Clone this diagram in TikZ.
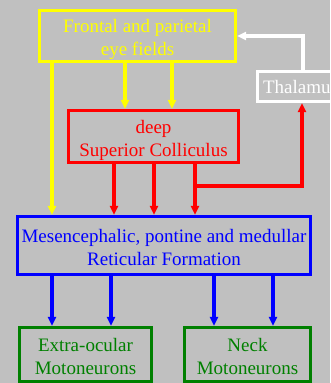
\documentclass[tikz,border=0pt]{standalone}
\usepackage{fontspec}
\setmainfont{Liberation Serif}
\definecolor{BgGray}{RGB}{192,192,192}
\definecolor{PathYellow}{RGB}{255,255,0}
\definecolor{PathRed}{RGB}{255,0,0}
\definecolor{PathBlue}{RGB}{0,0,255}
\definecolor{PathGreen}{RGB}{0,128,0}
\usetikzlibrary{arrows.meta}

\begin{document}
\begin{tikzpicture}[x=1pt,y=-1pt,
    area/.style={draw,line width=3.3pt,inner sep=0pt,align=center,
                 font=\fontsize{19}{23}\selectfont},
    twoline/.style={text height=44pt,text depth=5pt},
    arrow/.style={-{Triangle[length=9pt,width=8pt]},line width=3.3pt}]

    % Background
    \fill[BgGray] (0,0) rectangle (330,383);
    \useasboundingbox (0,0) rectangle (330,383);
    \clip (0,0) rectangle (330,383);

    % Areas
    \node[area,twoline,PathYellow,minimum width=196pt,minimum height=51pt] (fef) at (137.5,36)
          {Frontal and parietal\\eye fields};
    \node[area,twoline,PathRed,minimum width=170pt,minimum height=52pt] (sc) at (153.5,136.5)
          {deep\\Superior Colliculus};
    \node[area,white,minimum width=86pt,minimum height=30pt] (thal) at (300.5,86.5)
          {Thalamus};
    \node[area,twoline,PathBlue,minimum width=293pt,minimum height=58pt] (rf) at (164,245.5)
          {Mesencephalic, pontine and medullar\\Reticular Formation};
    \node[area,twoline,PathGreen,minimum width=132pt,minimum height=54pt] (eom) at (85.5,354.5)
          {Extra-ocular\\Motoneurons};
    \node[area,twoline,PathGreen,minimum width=126pt,minimum height=54pt] (nm) at (247.5,354.5)
          {Neck\\Motoneurons};

    % Cortex outputs
    \foreach \x in {125,172}
      \draw[arrow,PathYellow] (fef.south -| \x,0) -- (sc.north -| \x,0);
    \draw[arrow,PathYellow] (fef.south -| 52,0) -- (rf.north -| 52,0);

    % Colliculus outputs
    \foreach \x in {114,154,195}
      \draw[arrow,PathRed] (sc.south -| \x,0) -- (rf.north -| \x,0);
    \coordinate (scbranch) at (195,186);
    \draw[arrow,PathRed] (scbranch) -| (thal.south -| 302,0);

    % Thalamic loop
    \draw[arrow,white] (thal.north -| 303,0) |- (fef.east);

    % Reticular outputs
    \foreach \x in {52,111}
      \draw[arrow,PathBlue] (rf.south -| \x,0) -- (eom.north -| \x,0);
    \foreach \x in {214,273}
      \draw[arrow,PathBlue] (rf.south -| \x,0) -- (nm.north -| \x,0);
  \end{tikzpicture}
\end{document}
